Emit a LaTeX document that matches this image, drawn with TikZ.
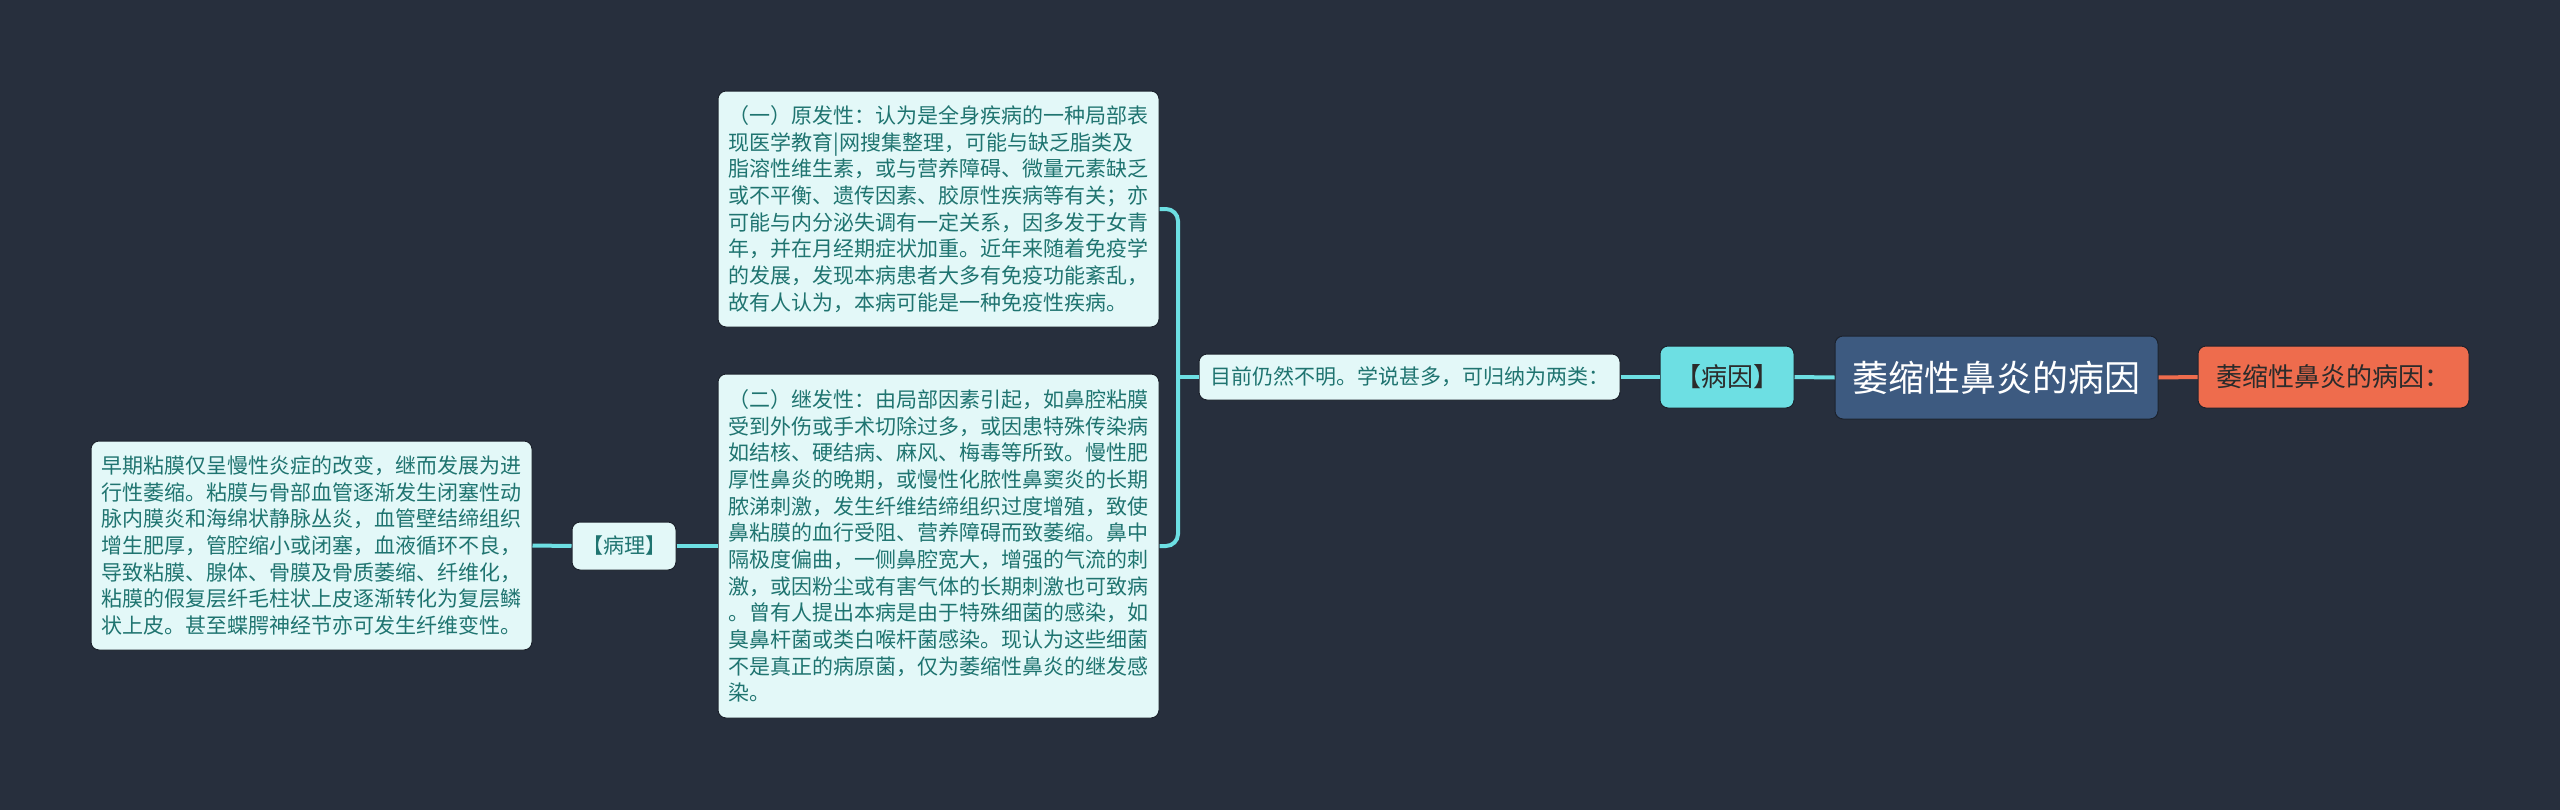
\documentclass[tikz,border=0pt]{standalone}
\usepackage{fontspec}
\newfontfamily\cjk{Noto Sans CJK SC}
\definecolor{bg}{HTML}{272F3D}
\definecolor{rootc}{HTML}{3D5A80}
\definecolor{orangec}{HTML}{EE6C4D}
\definecolor{cyanc}{HTML}{6DDFE3}
\definecolor{lightc}{HTML}{E3F8F8}
\definecolor{tealtext}{HTML}{1F7470}
\definecolor{darktext}{HTML}{2B2B2B}
\definecolor{edgec}{HTML}{1C222C}
\begin{document}
\begin{tikzpicture}[x=0.75pt,y=-0.75pt,
  base/.style={rectangle, rounded corners=6pt, inner sep=0pt, draw=edgec, line width=0.75pt, align=center},
  rootbox/.style={base, fill=rootc, text=white, font=\cjk\fontsize{27pt}{32pt}\selectfont},
  orangebox/.style={base, fill=orangec, text=darktext, font=\cjk\fontsize{19.5pt}{24pt}\selectfont},
  cyanbox/.style={base, fill=cyanc, text=darktext, font=\cjk\fontsize{19.5pt}{24pt}\selectfont},
  smallbox/.style={base, fill=lightc, text=tealtext, font=\cjk\fontsize{15.75pt}{20pt}\selectfont},
  textbox/.style={base, fill=lightc, text=tealtext, align=left, text width=315pt, inner xsep=7.875pt,
     font=\cjk\fontsize{15.75pt}{20pt}\selectfont},
  conn/.style={draw=cyanc, line width=3pt},
  oconn/.style={draw=orangec, line width=3pt}]
\useasboundingbox (0,0) rectangle (2560,810);
\fill[bg] (0,0) rectangle (2560,810);

\node[rootbox, minimum width=323*0.75pt, minimum height=83*0.75pt] (root) at (1996.5,377.5) {萎缩性鼻炎的病因};
\node[orangebox, minimum width=271*0.75pt, minimum height=62*0.75pt] (cause) at (2333.5,377) {萎缩性鼻炎的病因：};
\node[cyanbox, minimum width=134*0.75pt, minimum height=62*0.75pt] (bingyin) at (1727,377) {【病因】};
\node[smallbox, minimum width=421*0.75pt, minimum height=46*0.75pt] (mid) at (1409.5,377) {目前仍然不明。学说甚多，可归纳为两类：};
\node[textbox, minimum height=236*0.75pt] (box1) at (938.5,209) {（一）原发性：认为是全身疾病的一种局部表\\
现医学教育|网搜集整理，可能与缺乏脂类及\\
脂溶性维生素，或与营养障碍、微量元素缺乏\\
或不平衡、遗传因素、胶原性疾病等有关；亦\\
可能与内分泌失调有一定关系，因多发于女青\\
年，并在月经期症状加重。近年来随着免疫学\\
的发展，发现本病患者大多有免疫功能紊乱，\\
故有人认为，本病可能是一种免疫性疾病。};
\node[textbox, minimum height=344*0.75pt] (box2) at (938.5,546) {（二）继发性：由局部因素引起，如鼻腔粘膜\\
受到外伤或手术切除过多，或因患特殊传染病\\
如结核、硬结病、麻风、梅毒等所致。慢性肥\\
厚性鼻炎的晚期，或慢性化脓性鼻窦炎的长期\\
脓涕刺激，发生纤维结缔组织过度增殖，致使\\
鼻粘膜的血行受阻、营养障碍而致萎缩。鼻中\\
隔极度偏曲，一侧鼻腔宽大，增强的气流的刺\\
激，或因粉尘或有害气体的长期刺激也可致病\\
。曾有人提出本病是由于特殊细菌的感染，如\\
臭鼻杆菌或类白喉杆菌感染。现认为这些细菌\\
不是真正的病原菌，仅为萎缩性鼻炎的继发感\\
染。};
\node[smallbox, minimum width=104*0.75pt, minimum height=48*0.75pt] (bingli) at (624,546) {【病理】};
\node[textbox, minimum height=209*0.75pt] (left) at (311.5,545.5) {早期粘膜仅呈慢性炎症的改变，继而发展为进\\
行性萎缩。粘膜与骨部血管逐渐发生闭塞性动\\
脉内膜炎和海绵状静脉丛炎，血管壁结缔组织\\
增生肥厚，管腔缩小或闭塞，血液循环不良，\\
导致粘膜、腺体、骨膜及骨质萎缩、纤维化，\\
粘膜的假复层纤毛柱状上皮逐渐转化为复层鳞\\
状上皮。甚至蝶腭神经节亦可发生纤维变性。};

\coordinate (j) at (1178,377);
\begin{scope}[on background layer/.style={}]
\end{scope}
\draw[oconn] (root.east) -- (cause.west);
\draw[conn] (bingyin.east) -- (root.west);
\draw[conn] (mid.west) -- (j);
\draw[conn] (mid.east) -- (bingyin.west);
\draw[conn, rounded corners=9pt] (box1.east) -| (j) |- (box2.east);
\draw[conn] (bingli.west) -- (left.east);
\draw[conn] (bingli.east) -- (box2.west);
\end{tikzpicture}
\end{document}
